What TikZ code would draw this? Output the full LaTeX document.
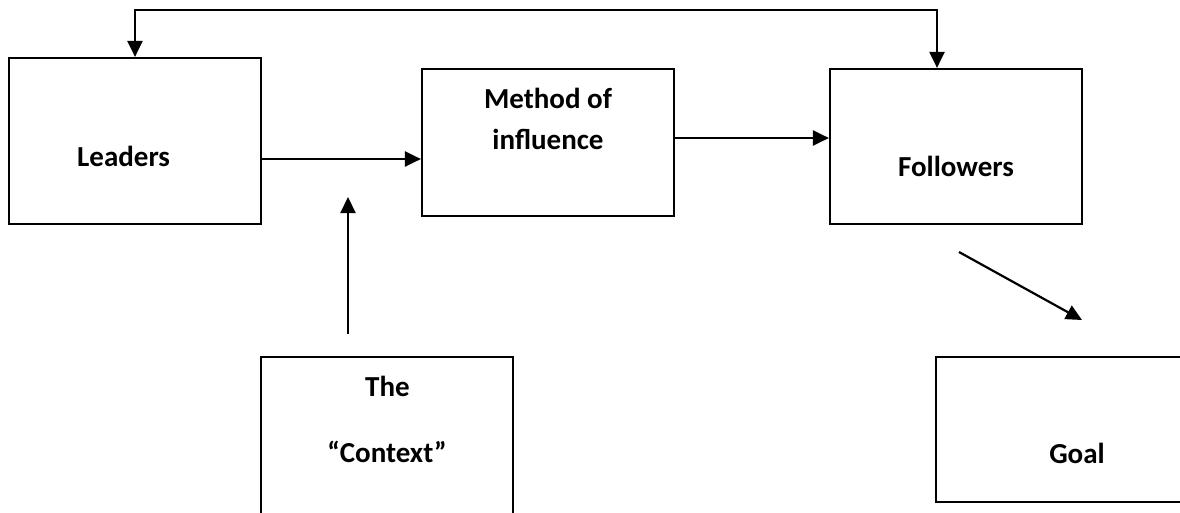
\documentclass[tikz,border=0pt]{standalone}
\usepackage{fontspec}
\setmainfont{Carlito}
\usetikzlibrary{arrows.meta}
\begin{document}
\begin{tikzpicture}[x=1pt, y=-1pt,
    box/.style={draw, line width=2.2pt, inner sep=0pt, minimum width=252pt},
    lbl/.style={font=\fontsize{29}{35}\selectfont\bfseries, inner sep=0pt},
    arrow/.style={line width=2.2pt, -{Triangle[length=16pt,width=15pt]}},
    biarrow/.style={line width=2.2pt, {Triangle[length=16pt,width=15pt]}-{Triangle[length=16pt,width=15pt]}},
  ]
    % Cadre
    \useasboundingbox (0,0) rectangle (1180,512);
    \clip (0,0) rectangle (1180,512);

    % Boites
    \node[box, minimum height=166pt] (leaders) at (135,141) {};
    \node[box, minimum height=147pt] (method) at (548,142.5) {};
    \node[box, minimum height=155pt] (followers) at (956,146.5) {};
    \node[box, minimum height=166pt] (context) at (387,440) {};
    \node[box, minimum height=145pt] (goal) at (1062,429.5) {};

    % Textes
    \node[lbl, anchor=base west] (tLeaders) at (77,166) {Leaders};
    \node[lbl, anchor=base] (tMethodA) at (548,108) {Method of};
    \node[lbl, anchor=base] (tMethodB) at (548,149) {influence};
    \node[lbl, anchor=base] (tFollowers) at (956,176) {Followers};
    \node[lbl, anchor=base] (tThe) at (387.5,396) {The};
    \node[lbl, anchor=base] (tContext) at (387,462) {“Context”};
    \node[lbl, anchor=base] (tGoal) at (1077,463) {Goal};

    % Boucle du haut
    \coordinate (top) at (0,10);
    \draw[biarrow] (leaders.north) -- (leaders.north |- top)
        -| ([xshift=-19pt]followers.north);

    % Fleches horizontales
    \draw[arrow] ([yshift=-18pt]leaders.east) coordinate (l1) -- (l1 -| method.west);
    \draw[arrow] ([yshift=4.5pt]method.east) coordinate (m1) -- (m1 -| followers.west);

    % Contexte
    \coordinate (ctxTip) at (348,197);
    \draw[arrow] (ctxTip |- 0,334) coordinate (c1) -- (ctxTip);

    % Vers le but
    \coordinate (goalFrom) at (959,252);
    \coordinate (goalTip) at (1082,320);
    \draw[arrow] (goalFrom) -- (goalTip);
\end{tikzpicture}
\end{document}
